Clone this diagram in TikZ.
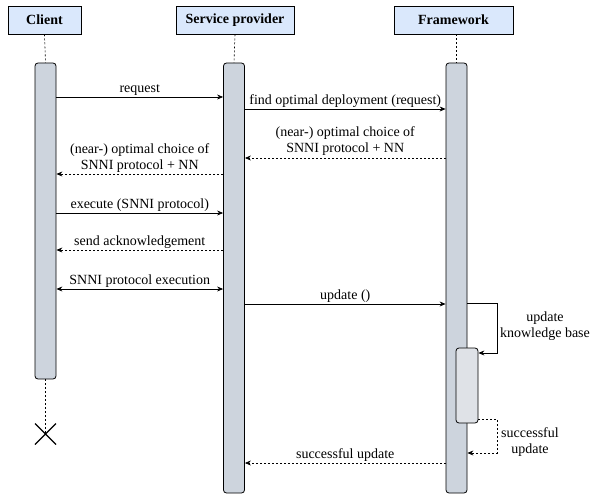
\documentclass[tikz,border=0pt]{standalone}
\usepackage{fontspec}
\setmainfont{Liberation Serif}
\usetikzlibrary{arrows.meta,calc}
\definecolor{headfill}{HTML}{DAE8FC}
\definecolor{barfill}{HTML}{CDD4DD}
\definecolor{innerfill}{HTML}{DFE2E7}
\tikzset{
  head/.style={draw, fill=headfill, minimum height=28pt, font=\fontsize{14}{16}\selectfont\bfseries, inner sep=0pt, line width=0.8pt},
  bar/.style={draw, fill=barfill, rounded corners=3pt, minimum width=21pt, inner sep=0pt, line width=0.8pt},
  inner/.style={draw, fill=innerfill, rounded corners=3pt, minimum width=22pt, inner sep=0pt, line width=0.8pt},
  life/.style={dashed, dash pattern=on 2pt off 2pt, line width=0.6pt},
  msg/.style={-{Stealth[length=6pt,width=5pt]}, line width=0.7pt},
  ret/.style={-{Stealth[length=6pt,width=5pt]}, dash pattern=on 2pt off 2pt, line width=0.7pt},
  both/.style={{Stealth[length=6pt,width=5pt]}-{Stealth[length=6pt,width=5pt]}, line width=0.7pt},
  lbl/.style={font=\fontsize{14}{16}\selectfont, align=center, inner sep=1pt}
}
\begin{document}
\begin{tikzpicture}[x=1pt,y=-1pt]
\useasboundingbox (0,0) rectangle (590,495);
% headers
\node[head, minimum width=73pt] (client) at (44.5,20) {Client};
\node[head, minimum width=118pt] (sp) at (235,20) {Service provider};
\node[head, minimum width=119pt] (fw) at (453.5,20) {Framework};
% activation bars
\node[bar, minimum height=316pt] (cbar) at (45.5,221) {};
\node[bar, minimum height=430pt] (sbar) at (234,278) {};
\node[bar, minimum height=430pt] (fbar) at (456.5,278) {};
\node[inner, minimum height=75pt] (ibox) at (467,385.5) {};
% lifelines
\draw[life] (client.south) -- (cbar.north);
\draw[life] (sp.south) -- (sbar.north);
\draw[life] (fw.south -| fbar.north) -- (fbar.north);
\coordinate (xmark) at (45.5,434);
\draw[life] (cbar.south) -- (xmark);
\draw[line width=1.2pt] ($(xmark)+(-10.5,-10.5)$) -- ($(xmark)+(10.5,10.5)$) ($(xmark)+(-10.5,10.5)$) -- ($(xmark)+(10.5,-10.5)$);
% messages
\draw[msg] (cbar.east |- 0,97) -- node[lbl, above] {request} (sbar.west |- 0,97);
\draw[msg] (sbar.east |- 0,109) -- node[lbl, above] {find optimal deployment (request)} (fbar.west |- 0,109);
\draw[ret] (fbar.west |- 0,158) -- node[lbl, above=1pt] {(near-) optimal choice of\\SNNI protocol + NN} (sbar.east |- 0,158);
\draw[ret] (sbar.west |- 0,174) -- node[lbl, above=0pt] {(near-) optimal choice of\\SNNI protocol + NN} (cbar.east |- 0,174);
\draw[msg] (cbar.east |- 0,213) -- node[lbl, above] {execute (SNNI protocol)} (sbar.west |- 0,213);
\draw[ret] (sbar.west |- 0,250) -- node[lbl, above] {send acknowledgement} (cbar.east |- 0,250);
\draw[both] (cbar.east |- 0,289) -- node[lbl, above] {SNNI protocol execution} (sbar.west |- 0,289);
\draw[msg] (sbar.east |- 0,304) -- node[lbl, above] {update ()} (fbar.west |- 0,304);
% self call
\draw[msg] (fbar.east |- 0,303) -- (497,303) -- (497,353) -- (ibox.east |- 0,353);
\node[lbl] (ukb) at (545,326.5) {update\\knowledge base};
\draw[ret] (ibox.east |- 0,419) -- (497,419) -- (497,453) -- (fbar.east |- 0,453);
\node[lbl] (su) at (530,442.5) {successful\\update};
\draw[ret] (fbar.west |- 0,463) -- node[lbl, above] {successful update} (sbar.east |- 0,463);
\end{tikzpicture}
\end{document}
